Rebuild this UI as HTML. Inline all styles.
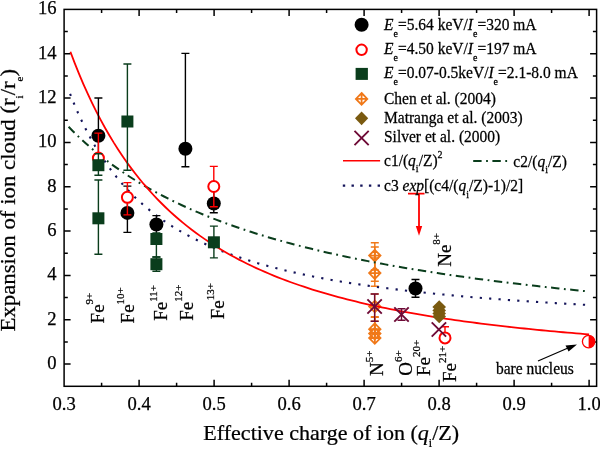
<!DOCTYPE html>
<html><head><meta charset="utf-8"><style>
html,body{margin:0;padding:0;background:#fff;}
svg{display:block;will-change:transform;}
text{font-family:"Liberation Serif",serif;fill:#000;stroke:#000;stroke-width:0.25px;}
</style></head><body>
<svg width="600" height="449" viewBox="0 0 600 449">
<rect x="64.1" y="9.4" width="532.5" height="376.90000000000003" fill="none" stroke="#000" stroke-width="1.5"/>
<path d="M101.60,386.3v-3.5M101.60,9.4v3.5M139.10,386.3v-6.5M139.10,9.4v6.5M176.60,386.3v-3.5M176.60,9.4v3.5M214.10,386.3v-6.5M214.10,9.4v6.5M251.60,386.3v-3.5M251.60,9.4v3.5M289.10,386.3v-6.5M289.10,9.4v6.5M326.60,386.3v-3.5M326.60,9.4v3.5M364.10,386.3v-6.5M364.10,9.4v6.5M401.60,386.3v-3.5M401.60,9.4v3.5M439.10,386.3v-6.5M439.10,9.4v6.5M476.60,386.3v-3.5M476.60,9.4v3.5M514.10,386.3v-6.5M514.10,9.4v6.5M551.60,386.3v-3.5M551.60,9.4v3.5M589.10,386.3v-6.5M589.10,9.4v6.5M64.1,364.10h6.5M596.6,364.10h-6.5M64.1,341.93h3.7M596.6,341.93h-3.7M64.1,319.76h6.5M596.6,319.76h-6.5M64.1,297.59h3.7M596.6,297.59h-3.7M64.1,275.42h6.5M596.6,275.42h-6.5M64.1,253.25h3.7M596.6,253.25h-3.7M64.1,231.08h6.5M596.6,231.08h-6.5M64.1,208.91h3.7M596.6,208.91h-3.7M64.1,186.74h6.5M596.6,186.74h-6.5M64.1,164.57h3.7M596.6,164.57h-3.7M64.1,142.40h6.5M596.6,142.40h-6.5M64.1,120.23h3.7M596.6,120.23h-3.7M64.1,98.06h6.5M596.6,98.06h-6.5M64.1,75.89h3.7M596.6,75.89h-3.7M64.1,53.72h6.5M596.6,53.72h-6.5M64.1,31.55h3.7M596.6,31.55h-3.7" stroke="#000" stroke-width="1.5" fill="none"/>
<text x="56.5" y="368.90" text-anchor="end" font-size="18.6">0</text>
<text x="56.5" y="324.56" text-anchor="end" font-size="18.6">2</text>
<text x="56.5" y="280.22" text-anchor="end" font-size="18.6">4</text>
<text x="56.5" y="235.88" text-anchor="end" font-size="18.6">6</text>
<text x="56.5" y="191.54" text-anchor="end" font-size="18.6">8</text>
<text x="56.5" y="147.20" text-anchor="end" font-size="18.6">10</text>
<text x="56.5" y="102.86" text-anchor="end" font-size="18.6">12</text>
<text x="56.5" y="58.52" text-anchor="end" font-size="18.6">14</text>
<text x="56.5" y="14.18" text-anchor="end" font-size="18.6">16</text>
<text x="64.10" y="409.7" text-anchor="middle" font-size="18.6">0.3</text>
<text x="139.10" y="409.7" text-anchor="middle" font-size="18.6">0.4</text>
<text x="214.10" y="409.7" text-anchor="middle" font-size="18.6">0.5</text>
<text x="289.10" y="409.7" text-anchor="middle" font-size="18.6">0.6</text>
<text x="364.10" y="409.7" text-anchor="middle" font-size="18.6">0.7</text>
<text x="439.10" y="409.7" text-anchor="middle" font-size="18.6">0.8</text>
<text x="514.10" y="409.7" text-anchor="middle" font-size="18.6">0.9</text>
<text x="589.10" y="409.7" text-anchor="middle" font-size="18.6">1.0</text>
<text transform="translate(331.2,440) scale(1.025,1)" text-anchor="middle" font-size="21.5">Effective charge of ion (<tspan font-style="italic">q</tspan><tspan font-size="11.5" dy="7">i</tspan><tspan dy="-7">/Z)</tspan></text>
<text transform="translate(15.4,200.3) rotate(-90) scale(1.038,1)" text-anchor="middle" font-size="22">Expansion of ion cloud (r<tspan font-size="10.5" dy="8">i</tspan><tspan dy="-8">/r</tspan><tspan font-size="10.5" dy="8">e</tspan><tspan dy="-8">)</tspan></text>
<path d="M374.8,242.8V270M370.8,242.8h8M370.8,270h8" stroke="#f07818" stroke-width="1.4" fill="none"/>
<path d="M374.8,247V281.2M370.8,247h8M370.8,281.2h8" stroke="#f07818" stroke-width="1.4" fill="none"/>
<path d="M374.8,258V286.2M370.8,258h8M370.8,286.2h8" stroke="#f07818" stroke-width="1.4" fill="none"/>
<path d="M374.8,316.7V333M370.8,316.7h8M370.8,333h8" stroke="#f07818" stroke-width="1.4" fill="none"/>
<path d="M374.8,317.4V338M370.8,317.4h8M370.8,338h8" stroke="#f07818" stroke-width="1.4" fill="none"/>
<path d="M374.8,249.79999999999998L380.5,255.6L374.8,261.4L369.1,255.6Z M369.1,255.6h11.4M374.8,249.79999999999998v11.6" fill="none" stroke="#f07818" stroke-width="1.8"/>
<path d="M374.8,267.3L380.5,273.1L374.8,278.90000000000003L369.1,273.1Z M369.1,273.1h11.4M374.8,267.3v11.6" fill="none" stroke="#f07818" stroke-width="1.8"/>
<path d="M374.8,323.4L380.5,329.2L374.8,335.0L369.1,329.2Z M369.1,329.2h11.4M374.8,323.4v11.6" fill="none" stroke="#f07818" stroke-width="1.8"/>
<path d="M374.8,327.8L380.5,333.6L374.8,339.40000000000003L369.1,333.6Z M369.1,333.6h11.4M374.8,327.8v11.6" fill="none" stroke="#f07818" stroke-width="1.8"/>
<path d="M374.8,332.2L380.5,338L374.8,343.8L369.1,338Z M369.1,338h11.4M374.8,332.2v11.6" fill="none" stroke="#f07818" stroke-width="1.8"/>
<path d="M374.8,294V321.3M370.8,294h8M370.8,321.3h8" stroke="#f07818" stroke-width="1.4" fill="none"/>
<path d="M374.8,300.7L380.5,306.5L374.8,312.3L369.1,306.5Z M369.1,306.5h11.4M374.8,300.7v11.6" fill="none" stroke="#f07818" stroke-width="1.8"/>
<defs><clipPath id="cp"><rect x="64.1" y="9.4" width="532.5" height="376.90000000000003"/></clipPath></defs>
<g clip-path="url(#cp)">
<path d="M68.60,126.82 L72.94,131.22 L77.28,135.47 L81.61,139.55 L85.95,143.50 L90.29,147.31 L94.62,150.99 L98.96,154.55 L103.30,157.99 L107.64,161.32 L111.98,164.54 L116.31,167.66 L120.65,170.69 L124.99,173.62 L129.33,176.47 L133.66,179.23 L138.00,181.92 L142.34,184.52 L146.68,187.05 L151.01,189.52 L155.35,191.91 L159.69,194.24 L164.03,196.51 L168.36,198.72 L172.70,200.87 L177.04,202.96 L181.38,205.00 L185.71,206.99 L190.05,208.94 L194.39,210.83 L198.73,212.68 L203.06,214.48 L207.40,216.24 L211.74,217.97 L216.07,219.65 L220.41,221.29 L224.75,222.90 L229.09,224.47 L233.43,226.00 L237.76,227.51 L242.10,228.98 L246.44,230.41 L250.77,231.82 L255.11,233.20 L259.45,234.55 L263.79,235.88 L268.13,237.17 L272.46,238.44 L276.80,239.69 L281.14,240.91 L285.47,242.11 L289.81,243.28 L294.15,244.43 L298.49,245.56 L302.82,246.67 L307.16,247.76 L311.50,248.83 L315.84,249.88 L320.17,250.91 L324.51,251.92 L328.85,252.91 L333.19,253.89 L337.52,254.85 L341.86,255.79 L346.20,256.71 L350.54,257.63 L354.88,258.52 L359.21,259.40 L363.55,260.27 L367.89,261.12 L372.23,261.96 L376.56,262.78 L380.90,263.59 L385.24,264.39 L389.58,265.18 L393.91,265.95 L398.25,266.71 L402.59,267.46 L406.92,268.20 L411.26,268.93 L415.60,269.64 L419.94,270.35 L424.27,271.04 L428.61,271.73 L432.95,272.40 L437.29,273.07 L441.62,273.72 L445.96,274.37 L450.30,275.00 L454.64,275.63 L458.98,276.25 L463.31,276.86 L467.65,277.46 L471.99,278.06 L476.32,278.64 L480.66,279.22 L485.00,279.79 L489.34,280.35 L493.67,280.91 L498.01,281.46 L502.35,282.00 L506.69,282.53 L511.02,283.06 L515.36,283.58 L519.70,284.09 L524.04,284.60 L528.38,285.10 L532.71,285.59 L537.05,286.08 L541.39,286.56 L545.72,287.04 L550.06,287.51 L554.40,287.97 L558.74,288.43 L563.08,288.88 L567.41,289.33 L571.75,289.77 L576.09,290.21 L580.42,290.64 L584.76,291.07 L589.10,291.49" fill="none" stroke="#0a3d1c" stroke-width="2" stroke-dasharray="8.4,4.5,1.8,4.5"/>
<path d="M69.35,92.01 L73.65,102.79 L77.95,112.77 L82.25,122.03 L86.55,130.65 L90.85,138.69 L95.15,146.19 L99.45,153.21 L103.75,159.78 L108.05,165.95 L112.35,171.74 L116.65,177.20 L120.95,182.34 L125.25,187.19 L129.55,191.77 L133.85,196.11 L138.15,200.22 L142.45,204.11 L146.75,207.81 L151.05,211.32 L155.35,214.66 L159.65,217.84 L163.95,220.88 L168.25,223.77 L172.55,226.53 L176.85,229.17 L181.15,231.69 L185.45,234.11 L189.75,236.42 L194.05,238.64 L198.35,240.77 L202.65,242.81 L206.95,244.78 L211.25,246.66 L215.55,248.48 L219.85,250.23 L224.15,251.91 L228.45,253.53 L232.75,255.09 L237.05,256.60 L241.35,258.05 L245.65,259.46 L249.95,260.82 L254.25,262.13 L258.55,263.40 L262.85,264.63 L267.15,265.82 L271.45,266.97 L275.75,268.08 L280.05,269.17 L284.35,270.22 L288.65,271.23 L292.95,272.22 L297.25,273.18 L301.55,274.11 L305.85,275.02 L310.15,275.90 L314.45,276.75 L318.75,277.58 L323.05,278.39 L327.35,279.18 L331.65,279.95 L335.95,280.69 L340.25,281.42 L344.55,282.13 L348.85,282.82 L353.15,283.50 L357.45,284.15 L361.75,284.79 L366.05,285.42 L370.35,286.03 L374.65,286.63 L378.95,287.21 L383.25,287.78 L387.55,288.33 L391.85,288.88 L396.15,289.41 L400.45,289.93 L404.75,290.44 L409.05,290.93 L413.35,291.42 L417.65,291.89 L421.95,292.36 L426.25,292.82 L430.55,293.26 L434.85,293.70 L439.15,294.13 L443.45,294.55 L447.75,294.96 L452.05,295.36 L456.35,295.76 L460.65,296.15 L464.95,296.53 L469.25,296.90 L473.55,297.26 L477.85,297.62 L482.15,297.97 L486.45,298.32 L490.75,298.66 L495.05,298.99 L499.35,299.32 L503.65,299.64 L507.95,299.96 L512.25,300.27 L516.55,300.57 L520.85,300.87 L525.15,301.17 L529.45,301.45 L533.75,301.74 L538.05,302.02 L542.35,302.29 L546.65,302.56 L550.95,302.83 L555.25,303.09 L559.55,303.35 L563.85,303.60 L568.15,303.85 L572.45,304.10 L576.75,304.34 L581.05,304.58 L585.35,304.81" fill="none" stroke="#14145a" stroke-width="2.1" stroke-dasharray="2.2,7.2" stroke-dashoffset="-2"/>
<path d="M70.40,51.75 L74.72,63.10 L79.05,73.85 L83.37,84.03 L87.69,93.69 L92.01,102.85 L96.34,111.56 L100.66,119.84 L104.98,127.71 L109.30,135.22 L113.62,142.37 L117.95,149.19 L122.27,155.70 L126.59,161.92 L130.92,167.86 L135.24,173.55 L139.56,178.99 L143.88,184.21 L148.21,189.20 L152.53,193.99 L156.85,198.59 L161.17,203.00 L165.50,207.24 L169.82,211.32 L174.14,215.23 L178.46,219.00 L182.79,222.63 L187.11,226.12 L191.43,229.48 L195.75,232.73 L200.08,235.86 L204.40,238.87 L208.72,241.78 L213.04,244.60 L217.36,247.31 L221.69,249.94 L226.01,252.47 L230.33,254.93 L234.66,257.30 L238.98,259.59 L243.30,261.82 L247.62,263.97 L251.94,266.06 L256.27,268.08 L260.59,270.04 L264.91,271.94 L269.24,273.78 L273.56,275.57 L277.88,277.30 L282.20,278.99 L286.52,280.63 L290.85,282.22 L295.17,283.76 L299.49,285.26 L303.82,286.72 L308.14,288.14 L312.46,289.52 L316.78,290.87 L321.11,292.17 L325.43,293.45 L329.75,294.69 L334.07,295.89 L338.39,297.07 L342.72,298.21 L347.04,299.33 L351.36,300.42 L355.68,301.48 L360.01,302.52 L364.33,303.52 L368.65,304.51 L372.98,305.47 L377.30,306.41 L381.62,307.32 L385.94,308.22 L390.26,309.09 L394.59,309.94 L398.91,310.78 L403.23,311.59 L407.56,312.39 L411.88,313.16 L416.20,313.92 L420.52,314.67 L424.85,315.39 L429.17,316.11 L433.49,316.80 L437.81,317.48 L442.14,318.15 L446.46,318.80 L450.78,319.44 L455.10,320.06 L459.43,320.67 L463.75,321.27 L468.07,321.86 L472.39,322.43 L476.72,323.00 L481.04,323.55 L485.36,324.09 L489.68,324.62 L494.00,325.14 L498.33,325.65 L502.65,326.15 L506.97,326.64 L511.29,327.12 L515.62,327.59 L519.94,328.05 L524.26,328.50 L528.59,328.95 L532.91,329.39 L537.23,329.81 L541.55,330.23 L545.87,330.65 L550.20,331.05 L554.52,331.45 L558.84,331.84 L563.16,332.23 L567.49,332.60 L571.81,332.97 L576.13,333.34 L580.45,333.70 L584.78,334.05 L589.10,334.39" fill="none" stroke="#ff0000" stroke-width="1.8"/>
</g>
<path d="M98.4,98V160M94.4,98h8M94.4,160h8" stroke="#000" stroke-width="1.4" fill="none"/>
<circle cx="98.4" cy="135.7" r="7.0" fill="#000"/>
<path d="M127.4,186.1V232.4M123.4,186.1h8M123.4,232.4h8" stroke="#000" stroke-width="1.4" fill="none"/>
<circle cx="127.4" cy="212.9" r="7.0" fill="#000"/>
<path d="M156.4,215.6V240M152.4,215.6h8M152.4,240h8" stroke="#000" stroke-width="1.4" fill="none"/>
<circle cx="156.4" cy="224.5" r="7.0" fill="#000"/>
<path d="M185.4,53.4V166.7M181.4,53.4h8M181.4,166.7h8" stroke="#000" stroke-width="1.4" fill="none"/>
<circle cx="185.4" cy="148.8" r="7.0" fill="#000"/>
<path d="M213.8,190V212.8M209.8,190h8M209.8,212.8h8" stroke="#000" stroke-width="1.4" fill="none"/>
<circle cx="213.8" cy="203.5" r="7.0" fill="#000"/>
<path d="M415.5,279.5V297.2M411.5,279.5h8M411.5,297.2h8" stroke="#000" stroke-width="1.4" fill="none"/>
<circle cx="415.5" cy="288.5" r="7.0" fill="#000"/>
<path d="M98.4,133.1V166M94.4,133.1h8M94.4,166h8" stroke="#ff0000" stroke-width="1.4" fill="none"/>
<circle cx="98.4" cy="158.1" r="5.5" fill="#fff" stroke="#ff0000" stroke-width="2.0"/>
<path d="M127.4,182.6V214.9M123.4,182.6h8M123.4,214.9h8" stroke="#ff0000" stroke-width="1.4" fill="none"/>
<circle cx="127.4" cy="197.3" r="5.5" fill="#fff" stroke="#ff0000" stroke-width="2.0"/>
<path d="M213.8,166.4V206.8M209.8,166.4h8M209.8,206.8h8" stroke="#ff0000" stroke-width="1.4" fill="none"/>
<circle cx="213.8" cy="186.5" r="5.5" fill="#fff" stroke="#ff0000" stroke-width="2.0"/>
<path d="M445,326.7V338M441.0,326.7h8M441.0,338h8" stroke="#ff0000" stroke-width="1.4" fill="none"/>
<circle cx="445" cy="337.9" r="5.5" fill="#fff" stroke="#ff0000" stroke-width="2.0"/>
<path d="M98.4,153.7V175.2M94.4,153.7h8M94.4,175.2h8" stroke="#0a3d1c" stroke-width="1.4" fill="none"/>
<rect x="92.4" y="159.2" width="12" height="12" fill="#0a3d1c"/>
<path d="M98.4,180V254.3M94.4,180h8M94.4,254.3h8" stroke="#0a3d1c" stroke-width="1.4" fill="none"/>
<rect x="92.4" y="212.3" width="12" height="12" fill="#0a3d1c"/>
<path d="M127.4,64V170.2M123.4,64h8M123.4,170.2h8" stroke="#0a3d1c" stroke-width="1.4" fill="none"/>
<rect x="121.4" y="115.5" width="12" height="12" fill="#0a3d1c"/>
<path d="M156.4,233V257M152.4,233h8M152.4,257h8" stroke="#0a3d1c" stroke-width="1.4" fill="none"/>
<rect x="150.4" y="233.0" width="12" height="12" fill="#0a3d1c"/>
<path d="M156.4,257V271.3M152.4,257h8M152.4,271.3h8" stroke="#0a3d1c" stroke-width="1.4" fill="none"/>
<rect x="150.4" y="258.2" width="12" height="12" fill="#0a3d1c"/>
<path d="M213.9,226.1V257.9M209.9,226.1h8M209.9,257.9h8" stroke="#0a3d1c" stroke-width="1.4" fill="none"/>
<rect x="207.9" y="236.3" width="12" height="12" fill="#0a3d1c"/>
<path d="M439.2,300.2L446.0,307L439.2,313.8L432.4,307Z" fill="#7a5a10"/>
<path d="M439.2,303.7L446.0,310.5L439.2,317.3L432.4,310.5Z" fill="#7a5a10"/>
<path d="M439.2,306.7L446.0,313.5L439.2,320.3L432.4,313.5Z" fill="#7a5a10"/>
<path d="M439.2,309.7L446.0,316.5L439.2,323.3L432.4,316.5Z" fill="#7a5a10"/>
<path d="M374.6,294V321.3M370.6,294h8M370.6,321.3h8" stroke="#6e0a36" stroke-width="1.4" fill="none"/>
<path d="M367.40000000000003,299.3L381.8,313.7M381.8,299.3L367.40000000000003,313.7" stroke="#6e0a36" stroke-width="1.9" fill="none"/>
<path d="M401.5,308.7V320.3M397.5,308.7h8M397.5,320.3h8" stroke="#6e0a36" stroke-width="1.4" fill="none"/>
<path d="M394.3,307.3L408.7,321.7M408.7,307.3L394.3,321.7" stroke="#6e0a36" stroke-width="1.9" fill="none"/>
<path d="M431.7,322.3L446.09999999999997,336.7M446.09999999999997,322.3L431.7,336.7" stroke="#6e0a36" stroke-width="1.9" fill="none"/>
<circle cx="588.6" cy="341.6" r="6.2" fill="#fff" stroke="#ff0000" stroke-width="1.3"/>
<path d="M588.6,335.4A6.2,6.2 0 0 1 588.6,347.8Z" fill="#ff0000"/>
<path d="M419,192.8V227M408,193.6h16.5" stroke="#ff0000" stroke-width="1.8" fill="none"/>
<path d="M415.8,226L422.2,226L419,235.8Z" fill="#ff0000"/>
<path d="M538,361L568,348" stroke="#000" stroke-width="1.3"/>
<path d="M577,344.4L565.5,345.6L568.6,351.6Z" fill="#000"/>
<text transform="translate(496,373.6) scale(1,1.04)" font-size="15.5">bare nucleus</text>
<text transform="translate(103.8,323.4) rotate(-90)" font-size="19">Fe<tspan font-size="11" dy="-10.5">9+</tspan></text>
<text transform="translate(134.1,323.4) rotate(-90)" font-size="19">Fe<tspan font-size="11" dy="-10.5">10+</tspan></text>
<text transform="translate(167.4,320.8) rotate(-90)" font-size="19">Fe<tspan font-size="11" dy="-10.5">11+</tspan></text>
<text transform="translate(192.5,320.8) rotate(-90)" font-size="19">Fe<tspan font-size="11" dy="-10.5">12+</tspan></text>
<text transform="translate(224,319.3) rotate(-90)" font-size="19">Fe<tspan font-size="11" dy="-10.5">13+</tspan></text>
<text transform="translate(383,376.1) rotate(-90)" font-size="19">N<tspan font-size="11" dy="-10.5">5+</tspan></text>
<text transform="translate(412.1,375.8) rotate(-90)" font-size="19">O<tspan font-size="11" dy="-10.5">6+</tspan></text>
<text transform="translate(430.2,376) rotate(-90)" font-size="19">Fe<tspan font-size="11" dy="-10.5">20+</tspan></text>
<text transform="translate(456.3,382) rotate(-90)" font-size="19">Fe<tspan font-size="11" dy="-10.5">21+</tspan></text>
<text transform="translate(450.5,266.8) rotate(-90)" font-size="19">Ne<tspan font-size="11" dy="-10.5">8+</tspan></text>
<circle cx="361.6" cy="24.8" r="7" fill="#000"/>
<circle cx="361.6" cy="49.8" r="5.2" fill="#fff" stroke="#ff0000" stroke-width="2.0"/>
<rect x="355.6" y="67.9" width="12.3" height="12" fill="#0a3d1c"/>
<path d="M361.6,93.0L367.3,98.9L361.6,104.80000000000001L355.90000000000003,98.9Z M355.90000000000003,98.9h11.4M361.6,93.0v11.8" fill="none" stroke="#f07818" stroke-width="1.8"/>
<path d="M361.6,111.39999999999999L368.20000000000005,118.3L361.6,125.2L355.0,118.3Z" fill="#7a5a10"/>
<path d="M354.5,130.9L368.70000000000005,145.1M368.70000000000005,130.9L354.5,145.1" stroke="#6e0a36" stroke-width="1.9" fill="none"/>
<text transform="translate(384,29.9) scale(1,1.06)" font-size="15.5"><tspan font-style="italic">E</tspan><tspan font-size="10" dy="6.4">e</tspan><tspan dy="-6.4">=5.64 keV/</tspan><tspan font-style="italic">I</tspan><tspan font-size="10" dy="6.4">e</tspan><tspan dy="-6.4">=320 mA</tspan></text>
<text transform="translate(384,54.2) scale(1,1.06)" font-size="15.5"><tspan font-style="italic">E</tspan><tspan font-size="10" dy="6.4">e</tspan><tspan dy="-6.4">=4.50 keV/</tspan><tspan font-style="italic">I</tspan><tspan font-size="10" dy="6.4">e</tspan><tspan dy="-6.4">=197 mA</tspan></text>
<text transform="translate(384,78.3) scale(1,1.06)" font-size="15.5"><tspan font-style="italic">E</tspan><tspan font-size="10" dy="6.4">e</tspan><tspan dy="-6.4">=0.07-0.5keV/</tspan><tspan font-style="italic">I</tspan><tspan font-size="10" dy="6.4">e</tspan><tspan dy="-6.4">=2.1-8.0 mA</tspan></text>
<text transform="translate(384,104) scale(1,1.06)" font-size="15.5">Chen et al. (2004)</text>
<text transform="translate(384,123) scale(1,1.06)" font-size="15.5">Matranga et al. (2003)</text>
<text transform="translate(384,142.4) scale(1,1.06)" font-size="15.5">Silver et al. (2000)</text>
<path d="M343,160.8H380.1" stroke="#ff0000" stroke-width="1.6"/>
<text transform="translate(384,165.7) scale(1,1.06)" font-size="15.5">c1/(<tspan font-style="italic">q</tspan><tspan font-size="10" dy="6.4">i</tspan><tspan dy="-6.4">/Z)</tspan><tspan font-size="10" dx="0" dy="-7.5">2</tspan></text>
<path d="M473.2,161H507.4" stroke="#0a3d1c" stroke-width="2" stroke-dasharray="8.4,4.5,1.8,4.5"/>
<text transform="translate(513.3,166.7) scale(1,1.06)" font-size="15.5">c2/(<tspan font-style="italic">q</tspan><tspan font-size="10" dy="6.4">i</tspan><tspan dy="-6.4">/Z)</tspan></text>
<path d="M342.8,185.6H380" stroke="#14145a" stroke-width="2.4" stroke-dasharray="2.4,6.3"/>
<text transform="translate(384,191.3) scale(1,1.06)" font-size="15.5">c3 <tspan font-style="italic">exp</tspan>[(c4/(<tspan font-style="italic">q</tspan><tspan font-size="10" dy="6.4">i</tspan><tspan dy="-6.4">/Z)-1)/2]</tspan></text>
</svg>
</body></html>
